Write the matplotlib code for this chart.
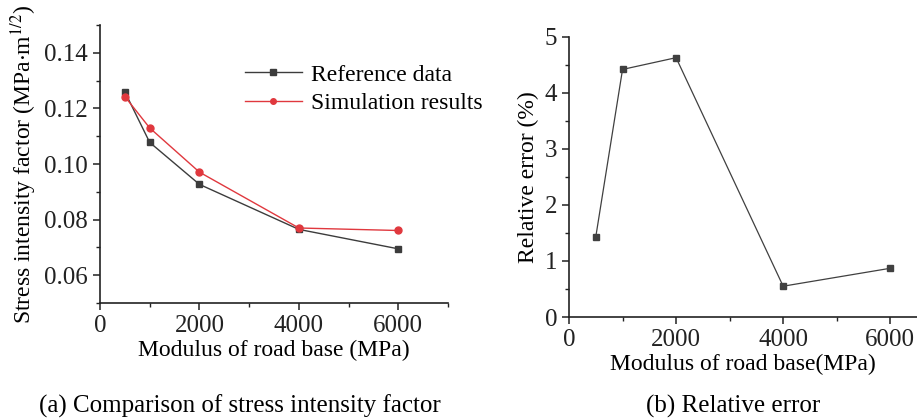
import matplotlib
matplotlib.use("Agg")
import matplotlib.pyplot as plt
from matplotlib.ticker import MultipleLocator

plt.rcParams['font.family'] = ['Liberation Serif', 'DejaVu Serif']
plt.rcParams['mathtext.fontset'] = 'stix'

modulus = [500, 1000, 2000, 4000, 6000]
reference_sif = [0.1260, 0.1078, 0.0927, 0.0765, 0.0695]
simulation_sif = [0.1243, 0.1130, 0.0971, 0.0770, 0.0761]
relative_error = [1.43, 4.42, 4.63, 0.55, 0.87]

fig = plt.figure(figsize=(9.17, 4.18), dpi=100)
ax1 = fig.add_axes([0.109, 0.275, 0.3796, 0.665])
ax2 = fig.add_axes([0.6205, 0.2416, 0.3795, 0.67])

fs = 17
tfs = 18
for ax in (ax1, ax2):
    for s in ('top', 'right'):
        ax.spines[s].set_visible(False)
    for s in ('left', 'bottom'):
        ax.spines[s].set_linewidth(1.2)
        ax.spines[s].set_color('#222222')
    ax.tick_params(axis='both', which='major', direction='out', length=5, width=1.1, labelsize=tfs, colors='#222222')
    ax.tick_params(axis='both', which='minor', direction='out', length=3, width=1.0, colors='#222222')
    ax.xaxis.set_major_locator(MultipleLocator(2000))
    ax.xaxis.set_minor_locator(MultipleLocator(1000))

ax1.plot(modulus, reference_sif, '-s', color='#3c3c3c', lw=1.0, ms=5, label='Reference data')
ax1.plot(modulus, simulation_sif, '-o', color='#e0383e', lw=1.0, ms=5, label='Simulation results')
ax1.set_xlim(0, 7000)
ax1.set_ylim(0.05, 0.15)
ax1.yaxis.set_minor_locator(MultipleLocator(0.01))
ax1.set_yticks([0.06, 0.08, 0.10, 0.12, 0.14])
ax1.set_yticklabels(['0.06', '0.08', '0.10', '0.12', '0.14'])
ax1.set_xlabel('Modulus of road base (MPa)', fontsize=fs, labelpad=2)
ax1.set_ylabel('Stress intensity factor (MPa$\\cdot$m$^{1/2}$)', fontsize=fs, labelpad=4)
leg = ax1.legend(loc='upper left', bbox_to_anchor=(0.417, 0.86), frameon=False, fontsize=fs,
                 borderaxespad=0, borderpad=0, markerscale=0.8,
                 handlelength=2.4, handletextpad=0.4, labelspacing=0.3)

ax2.plot(modulus, relative_error, '-s', color='#404040', lw=0.9, ms=5)
ax2.set_xlim(0, 6500)
ax2.set_ylim(0, 5)
ax2.yaxis.set_major_locator(MultipleLocator(1))
ax2.yaxis.set_minor_locator(MultipleLocator(0.5))
ax2.set_xlabel('Modulus of road base(MPa)', fontsize=fs, labelpad=2)
ax2.set_ylabel('Relative error (%)', fontsize=fs, labelpad=4)

fig.text(0.262, 0.028, '(a) Comparison of stress intensity factor', ha='center', va='center', fontsize=18)
fig.text(0.80, 0.028, '(b) Relative error', ha='center', va='center', fontsize=18)

fig.savefig('out.png', dpi=100)
